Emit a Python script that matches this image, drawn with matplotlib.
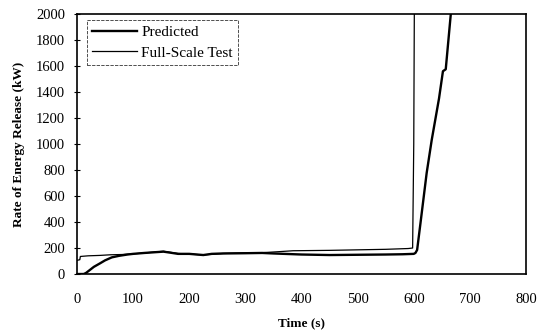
import matplotlib
matplotlib.use("Agg")
import matplotlib.pyplot as plt

# Predicted (thick line)
pred_t = [0, 12, 16, 22, 30, 41, 50, 62, 75, 90, 100, 120, 140, 154, 165, 180, 200, 225,
          240, 260, 300, 330, 350, 400, 450, 500, 550, 580, 600, 603, 606, 612, 623, 632,
          645, 652, 657, 666]
pred_v = [0, 0, 8, 28, 55, 82, 105, 128, 140, 150, 155, 162, 168, 172, 165, 155, 155, 146,
          155, 158, 160, 162, 158, 150, 146, 148, 150, 152, 155, 162, 185, 392, 777, 1031,
          1350, 1560, 1575, 2000]

# Full-Scale Test (thin line)
test_t = [0, 5, 6, 20, 40, 60, 80, 100, 120, 154, 180, 225, 260, 300, 330, 360, 385, 450,
          500, 550, 590, 598, 600, 601]
test_v = [105, 110, 135, 140, 143, 148, 150, 155, 162, 175, 158, 147, 158, 162, 164, 172,
          179, 182, 186, 190, 196, 200, 1000, 2000]

x_ticks = [0, 100, 200, 300, 400, 500, 600, 700, 800]
y_ticks = [0, 200, 400, 600, 800, 1000, 1200, 1400, 1600, 1800, 2000]

plt.rcParams['font.family'] = ['Liberation Serif', 'DejaVu Serif']

fig = plt.figure(figsize=(5.43, 3.34), dpi=100)
ax = fig.add_axes([0.1418, 0.1796, 0.8269, 0.7784])

ax.plot(pred_t, pred_v, color='black', lw=1.7, label='Predicted', solid_joinstyle='round')
ax.plot(test_t, test_v, color='black', lw=0.9, label='Full-Scale Test')

ax.set_xlim(0, 800)
ax.set_ylim(0, 2000)
ax.set_xticks(x_ticks)
ax.set_yticks(y_ticks)
ax.tick_params(axis='x', length=0, pad=14, labelsize=10.5)
ax.tick_params(axis='y', direction='inout', length=5, width=0.8, pad=6, labelsize=10.5)
for s in ax.spines.values():
    s.set_linewidth(1.2)

ax.set_xlabel('Time (s)', fontsize=9.5, fontweight='bold', labelpad=8)
ax.set_ylabel('Rate of Energy Release (kW)', fontsize=9.5, fontweight='bold', labelpad=8)

leg = ax.legend(loc='upper left', bbox_to_anchor=(0.022, 0.977), fontsize=11,
                frameon=True, fancybox=False, edgecolor='black', handlelength=2.9,
                handletextpad=0.3, borderpad=0.35, labelspacing=0.45, borderaxespad=0)
leg.get_frame().set_linewidth(0.6)
leg.get_frame().set_linestyle((0, (4, 1.5)))

fig.savefig('out.png', dpi=100)
